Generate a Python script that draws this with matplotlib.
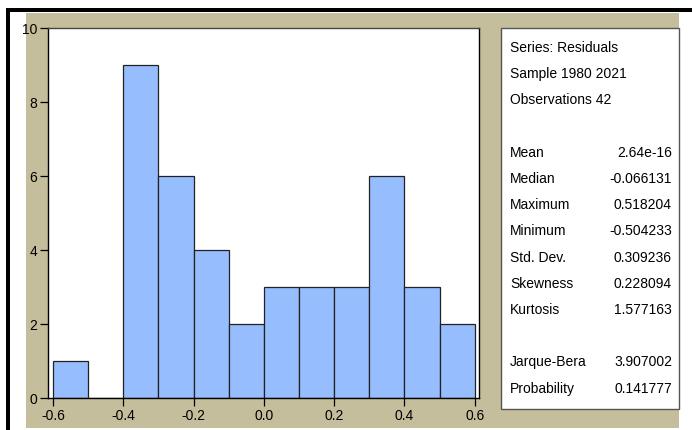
import matplotlib
matplotlib.use("Agg")
import matplotlib.pyplot as plt
from matplotlib import font_manager
from matplotlib.patches import Rectangle
import numpy as np

# --
# Data (EViews residual histogram)
# --
bin_edges = [-0.6, -0.5, -0.4, -0.3, -0.2, -0.1, 0.0, 0.1, 0.2, 0.3, 0.4, 0.5, 0.6]
counts = [1, 0, 9, 6, 4, 2, 3, 3, 3, 6, 3, 2]

x_ticks = [-0.6, -0.4, -0.2, 0.0, 0.2, 0.4, 0.6]
y_ticks = [0, 2, 4, 6, 8, 10]

stat_labels = ["Series: Residuals", "Sample 1980 2021", "Observations 42", "",
               "Mean", "Median", "Maximum", "Minimum", "Std. Dev.", "Skewness",
               "Kurtosis", "", "Jarque-Bera", "Probability"]
stat_values = ["", "", "", "",
               "2.64e-16", "-0.066131", "0.518204", "-0.504233", "0.309236",
               "0.228094", "1.577163", "", "3.907002", "0.141777"]

# --
# Fonts
# --
names = {f.name for f in font_manager.fontManager.ttflist}
if "Liberation Sans Narrow" in names:
    plt.rcParams["font.family"] = ["Liberation Sans Narrow", "DejaVu Sans"]
    fsize = 12.5
else:
    plt.rcParams["font.family"] = ["Liberation Sans", "DejaVu Sans"]
    fsize = 10
plt.rcParams["axes.unicode_minus"] = False

W, H = 692, 430
fig = plt.figure(figsize=(W / 100, H / 100), dpi=100)
fig.patch.set_facecolor("white")


def px_rect(x0, y0, x1, y1, **kw):
    # pixel box (top-left origin) -> figure fraction rectangle
    return Rectangle((x0 / W, 1 - y1 / H), (x1 - x0) / W, (y1 - y0) / H,
                     transform=fig.transFigure, **kw)


# window frame and tan panel
fig.add_artist(px_rect(6, 8, 692, 12, facecolor="black", edgecolor="none", zorder=-3))
fig.add_artist(px_rect(6, 8, 10, 430, facecolor="black", edgecolor="none", zorder=-3))
fig.add_artist(px_rect(26, 13, 679, 428, facecolor="#C5BE9C", edgecolor="none", zorder=-2))

# --
# Histogram
# --
ax = fig.add_axes([48 / W, 1 - 398 / H, (479 - 48) / W, (398 - 28) / H])
ax.set_facecolor("white")
ax.bar(bin_edges[:-1], counts, width=np.diff(bin_edges), align="edge",
       color="#96BDFD", edgecolor="#222222", linewidth=0.9)
ax.set_xlim(-0.614, 0.612)
ax.set_ylim(0, 10)
ax.set_xticks(x_ticks)
ax.set_xticklabels([f"{t:.1f}" for t in x_ticks])
ax.set_yticks(y_ticks)
ax.tick_params(axis="both", direction="out", length=6, width=0.9,
               labelsize=fsize, colors="black", pad=2)
for s in ax.spines.values():
    s.set_color("black")
    s.set_linewidth(1.0)
ax.spines["top"].set_color("#444444")

# --
# Statistics box
# --
fig.add_artist(px_rect(501, 28, 679, 409, facecolor="white", edgecolor="#555555",
                       linewidth=1.0, zorder=1))
y0, step = 48, 26.2
for i, (lab, val) in enumerate(zip(stat_labels, stat_values)):
    yy = 1 - (y0 + i * step) / H
    if lab:
        fig.text(510 / W, yy, lab, ha="left", va="center", fontsize=fsize, zorder=2)
    if val:
        fig.text(672 / W, yy, val, ha="right", va="center", fontsize=fsize, zorder=2)

fig.savefig("out.png", dpi=100)
